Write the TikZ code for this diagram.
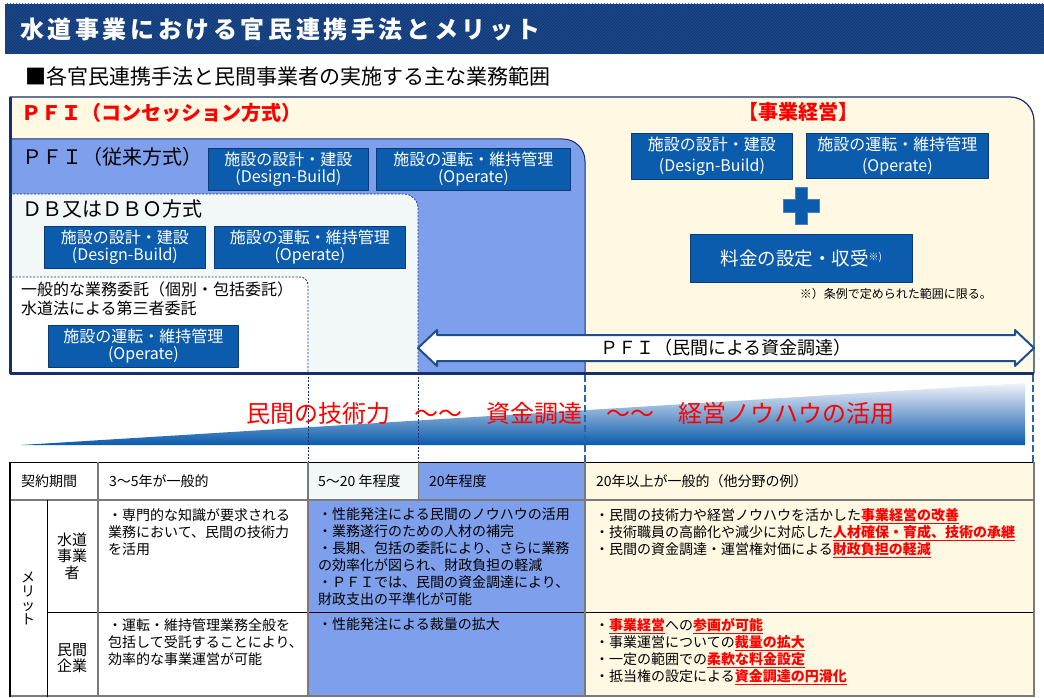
\documentclass[tikz,border=0pt]{standalone}
\usepackage{fontspec}
\setmainfont{Noto Sans CJK JP}
\newfontfamily\titlefont{Noto Sans CJK JP}[LetterSpace=15]
\usetikzlibrary{patterns}

\definecolor{titlenavy}{HTML}{113B7B}
\definecolor{titlehatch}{HTML}{24508E}
\definecolor{framenavy}{HTML}{14306A}
\definecolor{concream}{HTML}{FFF9E3}
\definecolor{pfiblue}{HTML}{7E9FEC}
\definecolor{dblight}{HTML}{F2F8F8}
\definecolor{boxblue}{HTML}{0B5CAD}
\definecolor{boxedge}{HTML}{0A3A78}
\definecolor{plusedge}{HTML}{4A7EBB}
\definecolor{arrownavy}{HTML}{1F4E8C}
\definecolor{keyred}{HTML}{FF0000}
\definecolor{wedgeblue}{HTML}{0A5BAC}
\definecolor{wedgetop}{HTML}{F2F2FA}
\definecolor{guideblue}{HTML}{2A63AE}
\definecolor{tablegray}{HTML}{7A7A7A}

\newcommand{\keypoint}[1]{\textcolor{keyred}{\bfseries\underline{#1}}}

\begin{document}
\begin{tikzpicture}[
  x=1pt,
  y=-1pt,
  line join=round,
  opbox/.style={draw=boxedge,line width=0.8pt,fill=boxblue,text=white,align=center,inner sep=0pt,anchor=north west,font=\fontsize{16}{17}\selectfont},
  bizbox/.style={opbox,font=\fontsize{16}{21}\selectfont},
  heading/.style={anchor=west,inner sep=0pt,font=\fontsize{20}{24}\selectfont},
  redheading/.style={heading,text=keyred,font=\fontsize{20}{24}\selectfont\bfseries},
  cell/.style={anchor=north west,inner sep=0pt,align=left,font=\fontsize{14}{17}\selectfont},
  cellhead/.style={anchor=west,inner sep=0pt,font=\fontsize{14}{17}\selectfont},
  gridline/.style={draw=tablegray,line width=1.8pt},
  blackline/.style={draw=black,line width=1pt},
  thinguide/.style={draw=framenavy,line width=0.7pt,dash pattern=on 2pt off 1.5pt},
  thickguide/.style={draw=guideblue,line width=2.8pt,dash pattern=on 7pt off 3pt}
]
  % Keep the page the size of the original slide.
  \useasboundingbox (0,0) rectangle (1044,698);

  % Title bar with its fine diagonal hatch.
  \fill[titlenavy] (5,4) rectangle (1044,54);
  \fill[pattern=north east lines,pattern color=titlehatch] (5,4) rectangle (1044,54);
  \node[anchor=west,inner sep=0pt,text=white,font=\titlefont\bfseries\fontsize{24}{28}\selectfont] (title) at (20,29) {水道事業における官民連携手法とメリット};
  \node[anchor=west,inner sep=0pt,font=\fontsize{21}{24}\selectfont] (subtitle) at (25,76) {■各官民連携手法と民間事業者の実施する主な業務範囲};

  % Nested scheme areas: concession, conventional PFI, DB/DBO, plain consignment.
  \filldraw[fill=concream,draw=framenavy,line width=1.2pt] (10,373) -- (10,97) -- (1010,97) arc[start angle=-90,end angle=0,radius=24] -- (1034,373) -- cycle;
  \filldraw[fill=pfiblue,draw=framenavy,line width=1pt] (10,373) -- (10,139) -- (563,139) arc[start angle=-90,end angle=0,radius=22] -- (585,373) -- cycle;
  \filldraw[fill=dblight,draw=framenavy,line width=0.8pt,dash pattern=on 2pt off 1.5pt] (10,373) -- (10,194) -- (404,194) arc[start angle=-90,end angle=0,radius=14] -- (418,373);
  \filldraw[fill=white,draw=framenavy,line width=0.8pt,dash pattern=on 2pt off 1.5pt] (10,373) -- (10,277) -- (300,277) arc[start angle=-90,end angle=0,radius=8] -- (308,373);
  \draw[framenavy,line width=3pt] (10,97) -- (10,373) -- (1034,373);

  % Area headings.
  \node[redheading] (concHead) at (21,113) {ＰＦＩ（コンセッション方式）};
  \node[redheading,anchor=center] (bizHead) at (798,112) {【事業経営】};
  \node[heading] (pfiHead) at (22,157) {ＰＦＩ（従来方式）};
  \node[heading] (dbHead) at (22,209) {ＤＢ又はＤＢＯ方式};
  \node[anchor=north west,inner sep=0pt,align=left,font=\fontsize{16}{18.5}\selectfont] (consignHead) at (21,282) {一般的な業務委託（個別・包括委託）\\水道法による第三者委託};

  % Work packages taken on by the private side.
  \node[opbox,minimum width=160pt,minimum height=42pt] (pfiDesign) at (208,148) {施設の設計・建設\\(Design-Build)};
  \node[opbox,minimum width=194pt,minimum height=42pt] (pfiOperate) at (376,148) {施設の運転・維持管理\\(Operate)};
  \node[opbox,minimum width=161pt,minimum height=42pt] (dbDesign) at (44,226) {施設の設計・建設\\(Design-Build)};
  \node[opbox,minimum width=191pt,minimum height=42pt] (dbOperate) at (214,226) {施設の運転・維持管理\\(Operate)};
  \node[opbox,minimum width=190pt,minimum height=42pt] (consignOperate) at (48,325) {施設の運転・維持管理\\(Operate)};
  \node[bizbox,minimum width=161pt,minimum height=46pt] (bizDesign) at (631,133) {施設の設計・建設\\(Design-Build)};
  \node[bizbox,minimum width=182pt,minimum height=45pt] (bizOperate) at (806,133) {施設の運転・維持管理\\(Operate)};
  \filldraw[fill=boxblue,draw=plusedge,line width=0.8pt] (795,187) -- (807,187) -- (807,199) -- (819,199) -- (819,212) -- (807,212) -- (807,224) -- (795,224) -- (795,212) -- (783,212) -- (783,199) -- (795,199) -- cycle;
  \node[opbox,minimum width=222pt,minimum height=48pt,font=\fontsize{18.5}{20}\selectfont] (bizFee) at (690,234) {料金の設定・収受\raisebox{5pt}{\fontsize{10}{10}\selectfont ※)}};
  \node[anchor=east,inner sep=0pt,font=\fontsize{12}{14}\selectfont] (feeNote) at (992,294) {※）条例で定められた範囲に限る。};

  % Private finance double arrow.
  \filldraw[fill=white,draw=arrownavy,line width=2pt] (418,348) -- (437,330) -- (437,335) -- (1015,335) -- (1015,330) -- (1034,348) -- (1015,366) -- (1015,361) -- (437,361) -- (437,366) -- cycle;
  \node[inner sep=0pt,font=\fontsize{18}{20}\selectfont] (financeLabel) at (726,348) {ＰＦＩ（民間による資金調達）};

  % Rising wedge of private involvement.
  \shade[top color=wedgetop,bottom color=wedgeblue] (21,445) -- (1025,383) -- (1025,445) -- cycle;

  % Scheme boundaries carried down to the table.
  \draw[thinguide] (308,373) -- (308,462);
  \draw[thinguide] (418,373) -- (418,462);
  \draw[thickguide] (585,375) -- (585,462);
  \draw[thickguide] (1033,375) -- (1033,462);

  \node[anchor=west,inner sep=0pt,text=keyred,font=\fontsize{24}{28}\selectfont] (flowText) at (246,413) {民間の技術力　～～　資金調達　～～　経営ノウハウの活用};

  % Table backgrounds.
  \fill[white] (10,462) rectangle (1034,697);
  \fill[dblight] (308,462) rectangle (418,500);
  \fill[pfiblue] (418,462) rectangle (585,500);
  \fill[pfiblue] (308,500) rectangle (585,697);
  \fill[concream] (585,462) rectangle (1034,697);

  % Table rules.
  \draw[blackline] (10,462) -- (1034,462);
  \draw[gridline] (10,500) -- (1034,500);
  \draw[blackline] (47,612) -- (1034,612);
  \draw[gridline] (10,696) -- (1034,696);
  \draw[blackline,line width=1.5pt] (10,462) -- (10,697);
  \draw[blackline] (47,500) -- (47,697);
  \draw[gridline] (98,462) -- (98,697);
  \draw[gridline] (308,462) -- (308,697);
  \draw[gridline,line width=1pt] (418,462) -- (418,500);
  \draw[gridline] (585,462) -- (585,697);
  \draw[gridline] (1034,462) -- (1034,697);

  % Contract period row.
  \node[cellhead] (termHead) at (21,481) {契約期間};
  \node[cellhead] (termConsign) at (109,481) {3～5年が一般的};
  \node[cellhead] (termDB) at (318,481) {5～20 年程度};
  \node[cellhead] (termPFI) at (429,481) {20年程度};
  \node[cellhead] (termConc) at (596,481) {20年以上が一般的（他分野の例）};

  % Merit rows.
  \node[align=center,inner sep=0pt,font=\fontsize{14}{14}\selectfont] (meritHead) at (28,598) {メ\\リ\\ッ\\ト};
  \node[align=center,inner sep=0pt,font=\fontsize{15}{16.5}\selectfont] (utilityHead) at (72,556) {水道\\事業\\者};
  \node[align=center,inner sep=0pt,font=\fontsize{15}{16.5}\selectfont] (privateHead) at (72,658) {民間\\企業};

  \node[cell] (utilityConsign) at (108,508) {・専門的な知識が要求される\\業務において、民間の技術力\\を活用};
  \node[cell] (utilityPFI) at (318,508) {・性能発注による民間のノウハウの活用\\・業務遂行のための人材の補完\\・長期、包括の委託により、さらに業務\\の効率化が図られ、財政負担の軽減\\・ＰＦＩでは、民間の資金調達により、\\財政支出の平準化が可能};
  \node[cell] (utilityConc) at (595,508) {・民間の技術力や経営ノウハウを活かした\keypoint{事業経営の改善}\\・技術職員の高齢化や減少に対応した\keypoint{人材確保・育成、技術の承継}\\・民間の資金調達・運営権対価による\keypoint{財政負担の軽減}};

  \node[cell] (privateConsign) at (108,618) {・運転・維持管理業務全般を\\包括して受託することにより、\\効率的な事業運営が可能};
  \node[cell] (privatePFI) at (318,618) {・性能発注による裁量の拡大};
  \node[cell] (privateConc) at (595,618) {・\keypoint{事業経営}への\keypoint{参画が可能}\\・事業運営についての\keypoint{裁量の拡大}\\・一定の範囲での\keypoint{柔軟な料金設定}\\・抵当権の設定による\keypoint{資金調達の円滑化}};
\end{tikzpicture}
\end{document}
